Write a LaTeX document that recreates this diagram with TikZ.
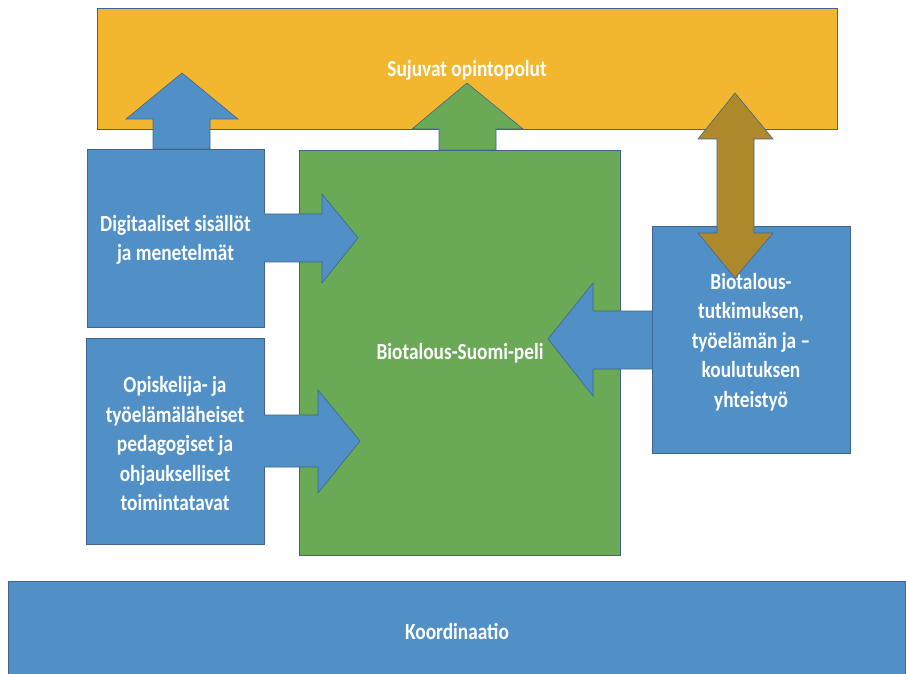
\documentclass[tikz,border=0pt]{standalone}
\usepackage{fontspec}
\setmainfont{Carlito}[FakeStretch=0.84]
\definecolor{boxorange}{RGB}{242,183,47}
\definecolor{boxblue}{RGB}{80,144,199}
\definecolor{boxgreen}{RGB}{106,169,85}
\definecolor{arrowbrown}{RGB}{173,137,43}
\definecolor{edge}{RGB}{64,100,145}
\begin{document}
\begin{tikzpicture}[x=1pt,y=-1pt,
  blockshape/.style={draw=edge,line width=0.6pt,line join=miter},
  boxtext/.style={text=white,font=\fontsize{23}{29.5}\selectfont\bfseries,align=center,inner sep=0pt}]
\useasboundingbox (0,0) rectangle (906,674);

% top band
\filldraw[blockshape,fill=boxorange] (97,8) rectangle (837,129);
\node[boxtext] (top) at (467,70) {Sujuvat opintopolut};

% block arrow up from the first input box
\filldraw[blockshape,fill=boxblue] (153,149) -- (153,119) -- (126,119) -- (182,73) -- (238,119) -- (210,119) -- (210,149) -- cycle;
% block arrow up from the game box
\filldraw[blockshape,fill=boxgreen] (439,150) -- (439,129) -- (412,129) -- (467,83) -- (523,129) -- (496,129) -- (496,150) -- cycle;

% left input boxes
\filldraw[blockshape,fill=boxblue] (87,149) rectangle (264,327);
\node[boxtext] (dig) at (175.5,240) {Digitaaliset sisällöt\\ja menetelmät};
\filldraw[blockshape,fill=boxblue] (86,338) rectangle (264,544);
\node[boxtext] (ped) at (175,444) {Opiskelija- ja\\työelämäläheiset\\pedagogiset ja\\ohjaukselliset\\toimintatavat};

% central game box
\filldraw[blockshape,fill=boxgreen] (299,150) rectangle (620,555);
\node[boxtext] (game) at (460,353) {Biotalous-Suomi-peli};

% arrows into the game box
\filldraw[blockshape,fill=boxblue] (264,214) -- (322,214) -- (322,194) -- (358,238) -- (322,283) -- (322,262) -- (264,262);
\filldraw[blockshape,fill=boxblue] (264,415) -- (318,415) -- (318,390) -- (360,441) -- (318,493) -- (318,467) -- (264,467);

% right cooperation box
\filldraw[blockshape,fill=boxblue] (652,226) rectangle (850,453);
\filldraw[blockshape,fill=boxblue] (652,311) -- (593,311) -- (593,283) -- (548,339) -- (593,396) -- (593,369) -- (652,369);

% two-way arrow between the band and the cooperation box
\filldraw[blockshape,fill=arrowbrown] (735,93) -- (773,139) -- (754,139) -- (754,233) -- (773,233) -- (735,278) -- (698,233) -- (717,233) -- (717,139) -- (698,139) -- cycle;
\node[boxtext] (coop) at (751,342) {Biotalous-\\tutkimuksen,\\työelämän ja –\\koulutuksen\\yhteistyö};

% bottom band
\filldraw[blockshape,fill=boxblue] (8,581) rectangle (905,682);
\node[boxtext] (coord) at (457,631) {Koordinaatio};
\end{tikzpicture}
\end{document}
